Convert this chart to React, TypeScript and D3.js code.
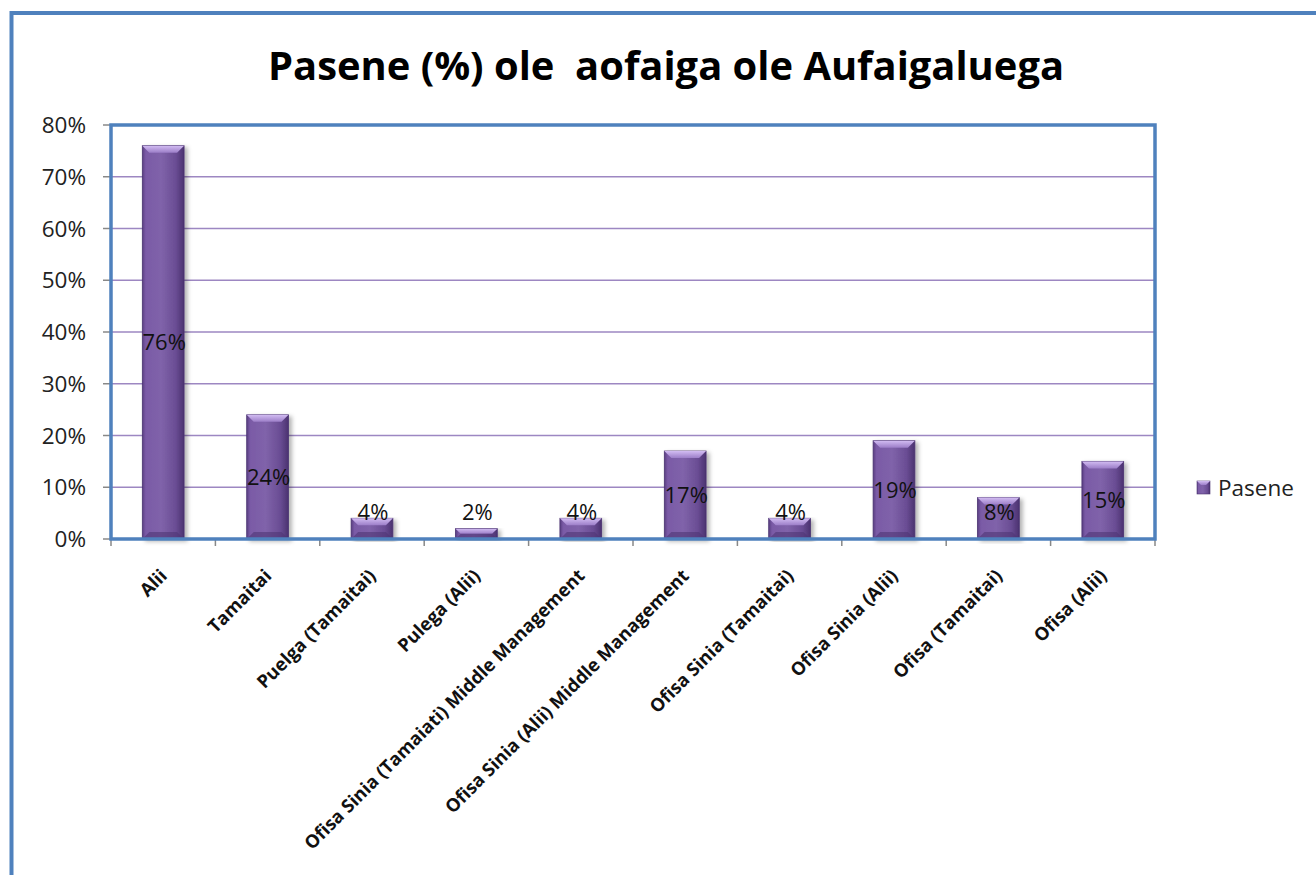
import React from "react";
import * as d3 from "d3";

const categories = [
  "Alii",
  "Tamaitai",
  "Puelga (Tamaitai)",
  "Pulega (Alii)",
  "Ofisa Sinia (Tamaiati) Middle Management",
  "Ofisa Sinia (Alii) Middle Management",
  "Ofisa Sinia (Tamaitai)",
  "Ofisa Sinia (Alii)",
  "Ofisa (Tamaitai)",
  "Ofisa (Alii)",
];
const values = [0.76, 0.24, 0.04, 0.02, 0.04, 0.17, 0.04, 0.19, 0.08, 0.15];
const yTicks = [0, 0.1, 0.2, 0.3, 0.4, 0.5, 0.6, 0.7, 0.8];
const seriesName = "Pasene";
const title = "Pasene (%) ole  aofaiga ole Aufaigaluega";

const W = 1316;
const H = 875;
const plot = { left: 111, right: 1155, top: 125, bottom: 539 };
const FONT = "'Open Sans', Lato, sans-serif";

export default function App() {
  const x = d3
    .scaleBand<string>()
    .domain(categories)
    .range([plot.left, plot.right])
    .paddingInner(0.6)
    .paddingOuter(0.3);
  const y = d3.scaleLinear().domain([0, 0.8]).range([plot.bottom, plot.top]);
  const fmt = d3.format(".0%");
  const step = x.step();
  const bw = x.bandwidth();
  const bev = 7;

  return (
    <svg
      width={W}
      height={H}
      style={{ position: "absolute", left: 0, top: 0, background: "#fff" }}
      fontFamily={FONT}
    >
      <defs>
        <linearGradient id="barG" x1="0" x2="1" y1="0" y2="0">
          <stop offset="0" stopColor="#5a3f82" />
          <stop offset="0.08" stopColor="#7a5aa6" />
          <stop offset="0.45" stopColor="#8063aa" />
          <stop offset="0.8" stopColor="#6a4d94" />
          <stop offset="1" stopColor="#4b3270" />
        </linearGradient>
        <linearGradient id="topG" x1="0" x2="0" y1="0" y2="1">
          <stop offset="0" stopColor="#d2bcf2" />
          <stop offset="1" stopColor="#9c7ec8" />
        </linearGradient>
        <filter id="shadow" x="-20%" y="-5%" width="150%" height="115%">
          <feDropShadow dx="3" dy="2" stdDeviation="2" floodColor="#000" floodOpacity="0.3" />
        </filter>
      </defs>

      {/* outer chart frame */}
      <rect x={11.5} y={13} width={1400} height={1000} fill="none" stroke="#4f81bd" strokeWidth={4} />

      {/* title */}
      <text
        x={666}
        y={80}
        textAnchor="middle"
        fontSize={40}
        fontWeight="bold"
        fill="#000"
        textLength={796}
        lengthAdjust="spacingAndGlyphs"
        style={{ whiteSpace: "pre" }}
      >
        {title}
      </text>

      {/* gridlines */}
      {yTicks.slice(1, -1).map((t) => (
        <line key={t} x1={plot.left} x2={plot.right} y1={y(t)} y2={y(t)} stroke="#9d87c2" strokeWidth={1.5} />
      ))}

      {/* y ticks & labels */}
      {yTicks.map((t) => (
        <g key={"yt" + t}>
          <line x1={plot.left - 8} x2={plot.left} y1={y(t)} y2={y(t)} stroke="#888" strokeWidth={1.5} />
          <text x={86} y={y(t)} dy="0.36em" textAnchor="end" fontSize={22.5} fill="#222">
            {fmt(t)}
          </text>
        </g>
      ))}

      {/* x ticks */}
      {d3.range(categories.length + 1).map((i) => {
        const xx = plot.left + i * step;
        return <line key={"xt" + i} x1={xx} x2={xx} y1={plot.bottom} y2={plot.bottom + 7} stroke="#888" strokeWidth={1.5} />;
      })}

      {/* bars */}
      {categories.map((c, i) => {
        const x0 = x(c)!;
        const y0 = y(values[i]);
        const yb = y(0);
        const h = yb - y0;
        const b = Math.min(bev, h / 2);
        return (
          <g key={c}>
            <rect x={x0} y={y0} width={bw} height={h} fill="url(#barG)" filter="url(#shadow)" stroke="#4a3270" strokeWidth={0.8} />
            <polygon
              points={`${x0},${y0} ${x0 + bw},${y0} ${x0 + bw - b},${y0 + b} ${x0 + b},${y0 + b}`}
              fill="url(#topG)"
            />
            <polygon
              points={`${x0},${yb} ${x0 + bw},${yb} ${x0 + bw - b},${yb - b} ${x0 + b},${yb - b}`}
              fill="#4e3574"
              opacity={0.6}
            />
          </g>
        );
      })}

      {/* data labels */}
      {categories.map((c, i) => {
        const mid = (y(values[i]) + y(0)) / 2;
        const cy = Math.min(mid, 512);
        return (
          <text key={"dl" + c} x={x(c)! + bw / 2 + 1} y={cy} dy="0.36em" textAnchor="middle" fontSize={22} fill="#111">
            {fmt(values[i])}
          </text>
        );
      })}

      {/* plot area border */}
      <rect
        x={plot.left}
        y={plot.top}
        width={plot.right - plot.left}
        height={plot.bottom - plot.top}
        fill="none"
        stroke="#4f81bd"
        strokeWidth={3.5}
      />

      {/* x labels */}
      {categories.map((c) => {
        const cx = x(c)! + bw / 2 + 5;
        const cy = plot.bottom + 38;
        return (
          <text
            key={"xl" + c}
            x={cx}
            y={cy}
            textAnchor="end"
            fontSize={18.3}
            fontWeight="bold"
            fill="#111"
            transform={`rotate(-45 ${cx} ${cy})`}
          >
            {c}
          </text>
        );
      })}

      {/* legend */}
      <rect x={1197} y={481} width={13} height={13} fill="url(#barG)" stroke="#4a3270" strokeWidth={0.6} />
      <polygon points="1197,481 1210,481 1206,485 1201,485" fill="url(#topG)" />
      <text x={1218} y={488} dy="0.36em" fontSize={22.5} fill="#222">
        {seriesName}
      </text>
    </svg>
  );
}
